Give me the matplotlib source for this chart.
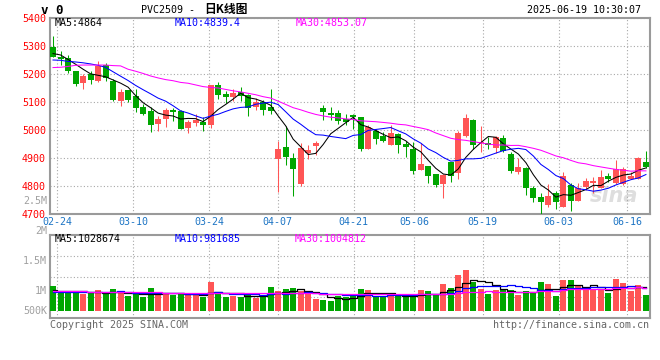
import numpy as np
import matplotlib
matplotlib.use("Agg")
import matplotlib.pyplot as plt

W, H = 660, 360

# x tick labels and the candle index they belong to
date_labels = ["02-24", "03-10", "03-24", "04-07", "04-21", "05-06", "05-19", "06-03", "06-16"]
date_idx = [1, 11, 21, 30, 40, 48, 57, 67, 76]

# daily OHLC, 02-21 .. 06-19
opens = [5295, 5262, 5257, 5211, 5169, 5199, 5176, 5233, 5176, 5105,
         5143, 5121, 5082, 5068, 5021, 5040, 5073, 5067, 5007, 5025,
         5027, 5018, 5161, 5129, 5119, 5136, 5124, 5081, 5099, 5083,
         4898, 4939, 4900, 4807, 4917, 4943, 5079, 5061, 5061, 5040,
         5052, 5046, 4933, 4996, 4979, 4945, 4986, 4949, 4932, 4857,
         4871, 4843, 4808, 4886, 4845, 4979, 5036, 4952, 4954, 4936,
         4971, 4914, 4850, 4865, 4793, 4762, 4733, 4775, 4726, 4805,
         4746, 4796, 4811, 4794, 4837, 4812, 4807, 4826, 4826, 4887]
highs = [5336, 5283, 5268, 5211, 5201, 5210, 5246, 5238, 5182, 5145,
         5143, 5145, 5093, 5081, 5051, 5080, 5080, 5071, 5036, 5056,
         5045, 5160, 5171, 5140, 5145, 5152, 5128, 5113, 5106, 5146,
         4960, 5015, 4918, 4952, 4945, 4962, 5090, 5082, 5071, 5057,
         5057, 5046, 5018, 5004, 4993, 5018, 4988, 4961, 4958, 4954,
         4871, 4843, 4842, 4886, 4996, 5056, 5038, 5013, 4975, 4979,
         4981, 4920, 4899, 4869, 4800, 4774, 4807, 4782, 4850, 4812,
         4812, 4830, 4833, 4857, 4845, 4893, 4869, 4851, 4904, 4926]
lows = [5260, 5233, 5205, 5157, 5146, 5164, 5171, 5176, 5104, 5087,
        5101, 5065, 5054, 4994, 4996, 5012, 5033, 5002, 4989, 5013,
        4996, 5008, 5110, 5096, 5104, 5105, 5050, 5071, 5054, 5057,
        4779, 4876, 4765, 4800, 4898, 4911, 5036, 5036, 5020, 5018,
        5004, 4926, 4931, 4951, 4956, 4945, 4919, 4905, 4844, 4857,
        4812, 4798, 4756, 4815, 4826, 4976, 4931, 4921, 4932, 4919,
        4920, 4848, 4843, 4769, 4743, 4700, 4726, 4718, 4726, 4711,
        4746, 4786, 4776, 4794, 4814, 4807, 4802, 4824, 4826, 4863]
closes = [5262, 5255, 5212, 5164, 5193, 5179, 5229, 5186, 5107, 5136,
          5107, 5080, 5058, 5018, 5039, 5071, 5064, 5004, 5029, 5035,
          5018, 5160, 5124, 5119, 5131, 5123, 5080, 5100, 5071, 5068,
          4932, 4904, 4861, 4936, 4929, 4952, 5064, 5052, 5033, 5029,
          5048, 4933, 5010, 4969, 4962, 4988, 4948, 4940, 4855, 4879,
          4837, 4805, 4838, 4836, 4989, 5043, 4948, 4958, 4946, 4975,
          4926, 4855, 4869, 4793, 4758, 4743, 4765, 4743, 4837, 4746,
          4793, 4818, 4818, 4832, 4826, 4860, 4860, 4836, 4899, 4868]
# volume, thousands of lots
vol_k = [1057, 814, 843, 843, 714, 757, 886, 757, 929, 757,
         629, 714, 586, 971, 786, 757, 700, 714, 714, 714,
         586, 1229, 771, 586, 629, 586, 743, 571, 629, 1014,
         843, 929, 971, 857, 786, 500, 457, 414, 629, 600,
         714, 929, 886, 629, 629, 757, 629, 629, 586, 886,
         843, 714, 1143, 971, 1529, 1743, 1257, 957, 714, 886,
         886, 886, 671, 843, 800, 1229, 1143, 629, 1314, 1314,
         1100, 886, 886, 886, 757, 1357, 1186, 843, 1100, 671]

# moving-average values before enough in-window history exists
ma5_head = [5273, 5268, 5252, 5235]
ma10_head = [5250, 5249, 5245, 5243, 5240, 5236, 5231, 5224, 5208]
ma30_head = [5223, 5224, 5227, 5231, 5232, 5232, 5232, 5232, 5230, 5229,
             5217, 5210, 5202, 5193, 5186, 5180, 5176, 5170, 5167, 5161,
             5155, 5152, 5150, 5145, 5140, 5136, 5131, 5126, 5119]
vma5_head = [914, 843, 843, 843]
vma10_head = [830, 830, 828, 826, 824, 822, 820, 820, 825]
vma30_head = [870, 870, 860, 860, 850, 830, 820, 820, 810, 810,
              800, 800, 800, 800, 800, 790, 790, 790, 790, 790,
              780, 790, 790, 780, 780, 780, 770, 770, 770]

price_ticks = [4700, 4800, 4900, 5000, 5100, 5200, 5300, 5400]

title_code = "PVC2509 -"
title_cn = "日K线图"
stamp = "2025-06-19 10:30:07"
ma_price_text = ["MA5:4864", "MA10:4839.4", "MA30:4853.07"]
ma_vol_text = ["MA5:1028674", "MA10:981685", "MA30:1004812"]
vol_labels = ["2.5M", "2M", "1.5M", "1M", "500K"]

RED = "#ff5555"
GREEN = "#00a600"
GRID = "#a8a8a8"
FRAME = "#9a9a9a"
MONO = "DejaVu Sans Mono"
FS = 7.2


def moving_avg(values, n, head):
    v = np.asarray(values, dtype=float)
    out = np.empty(len(v))
    out[:len(head)] = head
    for i in range(len(head), len(v)):
        out[i] = v[i - n + 1:i + 1].mean()
    return out


def fx(px):
    return px / W


def fy(py):
    return 1 - py / H


o = np.array(opens, float)
h = np.array(highs, float)
l = np.array(lows, float)
c = np.array(closes, float)
vol = np.array(vol_k, float) * 1000
x = np.arange(len(c))
colors = np.where(c >= o, RED, GREEN)

ma5 = moving_avg(c, 5, ma5_head)
ma10 = moving_avg(c, 10, ma10_head)
ma30 = moving_avg(c, 30, ma30_head)
vma5 = moving_avg(vol, 5, np.array(vma5_head) * 1000)
vma10 = moving_avg(vol, 10, np.array(vma10_head) * 1000)
vma30 = moving_avg(vol, 30, np.array(vma30_head) * 1000)

# the chart's date grid runs on a slightly wider step than the candles
grid_pos = [i * 1.0125 - 0.45 for i in date_idx]

fig = plt.figure(figsize=(W / 100, H / 100), dpi=100)
fig.patch.set_facecolor("white")

ax = fig.add_axes([fx(50), fy(214), 600 / W, 196 / H])
axv = fig.add_axes([fx(50), fy(318), 600 / W, 83 / H])

xlim = (-0.40, 79.54)

# price panel
ax.vlines(x, l, h, colors=colors, lw=0.75, zorder=3)
ax.bar(x, np.maximum(np.abs(c - o), 2.5), bottom=np.minimum(o, c), width=0.8,
       color=colors, zorder=3)
ax.plot(x, ma5, color="black", lw=0.75, zorder=4)
ax.plot(x, ma10, color="#0000ff", lw=0.75, zorder=4)
ax.plot(x, ma30, color="#ff00ff", lw=0.75, zorder=4)
ax.set_xlim(*xlim)
ax.set_ylim(price_ticks[0], price_ticks[-1])
ax.set_yticks(price_ticks)
ax.set_yticklabels([str(t) for t in price_ticks], family=MONO, fontsize=FS, color="#ff0000")
ax.set_xticks(grid_pos)
ax.set_xticklabels(date_labels, family=MONO, fontsize=FS, color="#1c74c4")
ax.tick_params(length=0, pad=2)
ax.tick_params(axis="y", pad=3)
ax.grid(True, color=GRID, linestyle=(0, (1, 2)), lw=0.8, zorder=0)
ax.text(0.94, 0.04, "sina", transform=ax.transAxes, fontsize=15, fontweight="bold",
        style="italic", color="#dedede", ha="center", va="bottom", zorder=1)

# volume panel
axv.bar(x, vol, width=0.8, color=colors, zorder=3)
axv.plot(x, vma5, color="black", lw=0.9, drawstyle="steps-mid", zorder=4)
axv.plot(x, vma10, color="#0000ff", lw=0.9, drawstyle="steps-mid", zorder=4)
axv.plot(x, vma30, color="#ff00ff", lw=0.9, drawstyle="steps-mid", zorder=4)
axv.set_xlim(*xlim)
vlo, vhi = -0.30e6, 3.257e6
axv.set_ylim(vlo, vhi)
axv.set_yticks(np.linspace(vlo, vhi, 5)[1:-1])
axv.set_yticklabels([])
axv.set_xticks(grid_pos)
axv.set_xticklabels([])
axv.tick_params(length=0)
axv.grid(True, color=GRID, linestyle=(0, (1, 2)), lw=0.8, zorder=0)

for a in (ax, axv):
    a.set_facecolor("white")
    for s in a.spines.values():
        s.set_color(FRAME)
        s.set_linewidth(1.5)

# header
fig.text(fx(41), fy(10), "v 0", family=MONO, fontsize=9, fontweight="bold", va="center")
fig.text(fx(141), fy(10), title_code, family=MONO, fontsize=FS, va="center")
fig.text(fx(204), fy(10), title_cn, family="Noto Sans CJK SC", fontsize=8.5,
         fontweight="bold", va="center")
fig.text(fx(641), fy(10), stamp, family=MONO, fontsize=FS, ha="right", va="center")

for txt, px, col in zip(ma_price_text, [55, 175, 296], ["black", "#0000ff", "#ff00ff"]):
    fig.text(fx(px), fy(23), txt, family=MONO, fontsize=FS, color=col, va="center")
for txt, px, col in zip(ma_vol_text, [55, 175, 295], ["black", "#0000ff", "#ff00ff"]):
    fig.text(fx(px), fy(238.5), txt, family=MONO, fontsize=FS, color=col, va="center")

for txt, py in zip(vol_labels, [201, 231, 261, 291, 311]):
    fig.text(fx(47), fy(py), txt, family=MONO, fontsize=FS, color="#a0a0a0",
             ha="right", va="center")

fig.text(fx(50), fy(324.5), "Copyright 2025 SINA.COM", family=MONO, fontsize=FS,
         color="#666666", va="center")
fig.text(fx(649), fy(324.5), "http://finance.sina.com.cn", family=MONO, fontsize=FS,
         color="#666666", ha="right", va="center")

fig.savefig("out.png", dpi=100, facecolor="white")
plt.close(fig)
